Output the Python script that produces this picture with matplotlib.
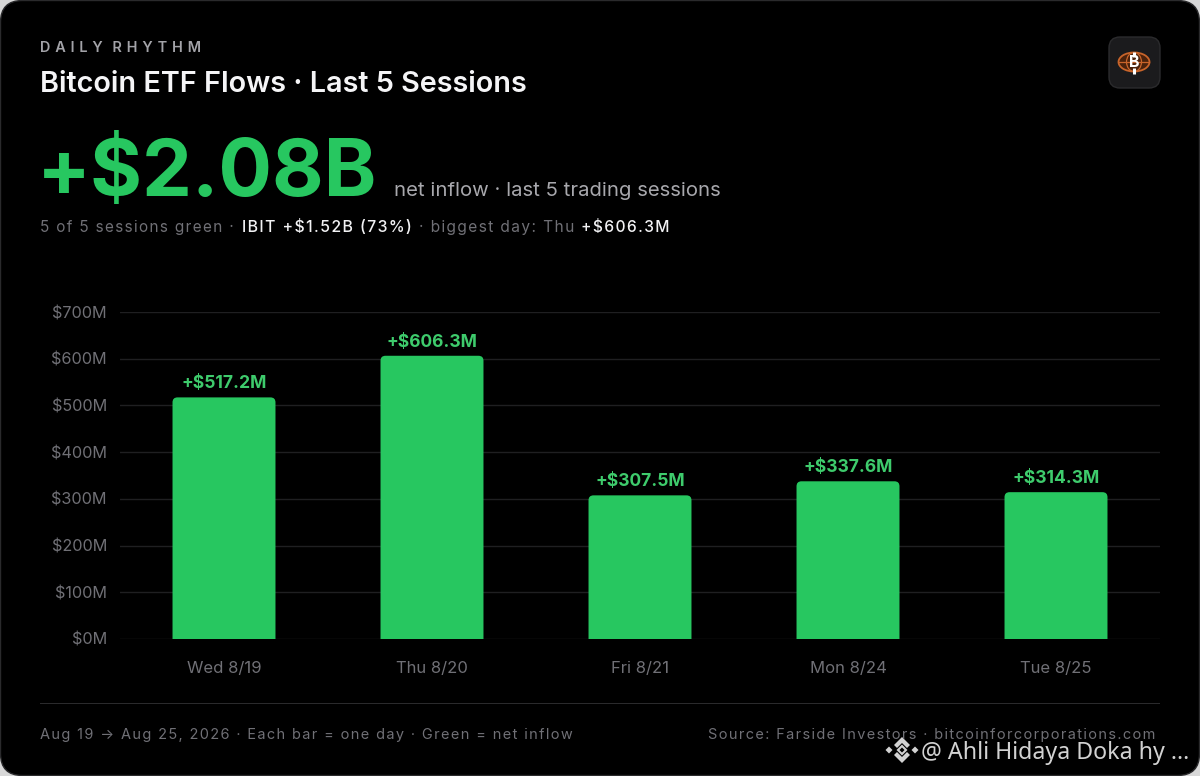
import matplotlib
matplotlib.use('AGG')
import matplotlib.pyplot as plt
from matplotlib.patches import FancyBboxPatch, Ellipse, PathPatch, Rectangle, Polygon
from matplotlib.path import Path

W, H = 1200, 776

sessions = ['Wed 8/19', 'Thu 8/20', 'Fri 8/21', 'Mon 8/24', 'Tue 8/25']
inflows = [517.2, 606.3, 307.5, 337.6, 314.3]
yticks = [0, 100, 200, 300, 400, 500, 600, 700]

GREEN = '#27c760'
GREEN_TXT = '#3ecb6c'
GREY = '#707076'
plt.rcParams['font.family'] = ['Inter', 'DejaVu Sans']

fig = plt.figure(figsize=(W / 100, H / 100), dpi=100, facecolor='#d8d8d8')

# whole figure as a pixel canvas for card, texts and logo
bg = fig.add_axes([0, 0, 1, 1])
bg.set_xlim(0, W)
bg.set_ylim(H, 0)
bg.axis('off')
bg.add_patch(FancyBboxPatch((0.5, 0.5), W - 1, H - 1, boxstyle='round,pad=0,rounding_size=22',
                            fc='#000000', ec='#2a2a2c', lw=1))


def label(x, y, s, size, color, weight='normal', ha='left', **kw):
    # size given in pixels of the picture
    return bg.text(x, y, s, fontsize=size * 0.72, color=color, weight=weight,
                   ha=ha, va='baseline', **kw)


def tracked(s):
    # matplotlib has no letter spacing, hair spaces stand in for it
    return '\u200a'.join(s)


label(40, 52, 'D\u2004A\u2004I\u2004L\u2004Y\u2004\u2004R\u2004H\u2004Y\u2004T\u2004H\u2004M', 14.5, '#a3a3a8', 'semibold')
label(40, 92, 'Bitcoin ETF Flows · Last 5 Sessions', 28.8, '#f5f5f7', 'semibold')
label(37, 196, '+$2.08B', 79.5, GREEN, 'bold')
label(394, 196, 'net inflow · last 5 trading sessions', 20.3, '#a8a8ad')

label(40, 232, tracked('5 of 5 sessions green ·'), 15.3, GREY)
label(242, 232, tracked('IBIT +$1.52B (73%)'), 15.9, '#f2f2f4', 'medium')
label(419, 232, tracked('· biggest day: Thu'), 15.5, GREY)
label(581, 232, tracked('+$606.3M'), 15.6, '#f2f2f4', 'medium')

# chart
ax = fig.add_axes([120 / W, 1 - 639 / H, 1040 / W, 327 / H])
ax.set_facecolor('none')
ax.set_xlim(-0.5, 4.5)
ax.set_ylim(0, 700)
for s in ax.spines.values():
    s.set_visible(False)
ax.set_axisbelow(True)
ax.grid(axis='y', color='#1f1f21', lw=1)
ax.set_yticks(yticks)
ax.set_yticklabels(['$%dM' % v for v in yticks])
ax.set_xticks(range(len(sessions)))
ax.set_xticklabels(sessions)
ax.tick_params(length=0, labelcolor=GREY, labelsize=11.7)
ax.tick_params(axis='y', pad=9.4)
ax.tick_params(axis='x', pad=15.7, labelsize=12)

# bars with small rounded top corners
rx = 5 / 208
ry = 5 * 700 / 327
bw = 0.495
for i, v in enumerate(inflows):
    l, r = i - bw / 2, i + bw / 2
    verts = [(l, 0), (l, v - ry), (l, v), (l + rx, v), (r - rx, v), (r, v), (r, v - ry), (r, 0), (l, 0)]
    codes = [Path.MOVETO, Path.LINETO, Path.CURVE3, Path.CURVE3, Path.LINETO,
             Path.CURVE3, Path.CURVE3, Path.LINETO, Path.CLOSEPOLY]
    ax.add_patch(PathPatch(Path(verts, codes), fc=GREEN, ec='none'))
    ax.annotate('+$%.1fM' % v, (i, v), xytext=(0, 3.6), textcoords='offset points',
                ha='center', va='bottom', color=GREEN_TXT, fontsize=12.6, weight='bold')

# footer
bg.add_patch(Rectangle((40, 703), 1120, 1, fc='#2a2a2c', ec='none'))
label(40, 739, tracked('Aug 19 → Aug 25, 2026 · Each bar = one day · Green = net inflow'), 14.5, GREY)
label(1155, 739, tracked('Source: Farside Investors · bitcoinforcorporations.com'), 14.5, GREY, ha='right')

# logo top right
bg.add_patch(FancyBboxPatch((1109, 37), 51, 51, boxstyle='round,pad=0,rounding_size=11',
                            fc='#1b1b1d', ec='#2b2b2d', lw=1))
bg.add_patch(Ellipse((1134, 62), 31, 19, fc='#4a220c', ec='#c8642a', lw=1.3))
bg.add_patch(Ellipse((1134, 62), 15, 19, fc='none', ec='#c8642a', lw=0.9))
bg.plot([1119, 1149], [62, 62], color='#c8642a', lw=0.9)
bg.plot([1134, 1134], [52, 57], color='white', lw=2.2, solid_capstyle='butt')
bg.plot([1134, 1134], [68, 74], color='white', lw=2.2, solid_capstyle='butt')
bg.text(1133.8, 62.6, 'B', color='white', fontsize=11.5, weight='bold', ha='center', va='center')

# watermark
wm = '#d2d2d2'
cx, cy = 902, 750
for sign in (-1, 1):
    bg.add_patch(Polygon([(cx, cy + sign * 13), (cx + 8, cy + sign * 5), (cx + 5, cy + sign * 2),
                          (cx, cy + sign * 7), (cx - 5, cy + sign * 2), (cx - 8, cy + sign * 5)],
                         fc=wm, ec='none'))
    bg.add_patch(Polygon([(cx + sign * 13, cy - 3.5), (cx + sign * 9.5, cy), (cx + sign * 13, cy + 3.5),
                          (cx + sign * 16.5, cy)], fc=wm, ec='none'))
bg.add_patch(Polygon([(cx, cy - 4), (cx + 4, cy), (cx, cy + 4), (cx - 4, cy)], fc='#000000', ec=wm, lw=1.5))
label(921, 759, '@ Ahli Hidaya Doka hy ...', 23.2, wm, family=['Noto Sans', 'DejaVu Sans'])

fig.savefig('out.png', dpi=100, facecolor=fig.get_facecolor())
